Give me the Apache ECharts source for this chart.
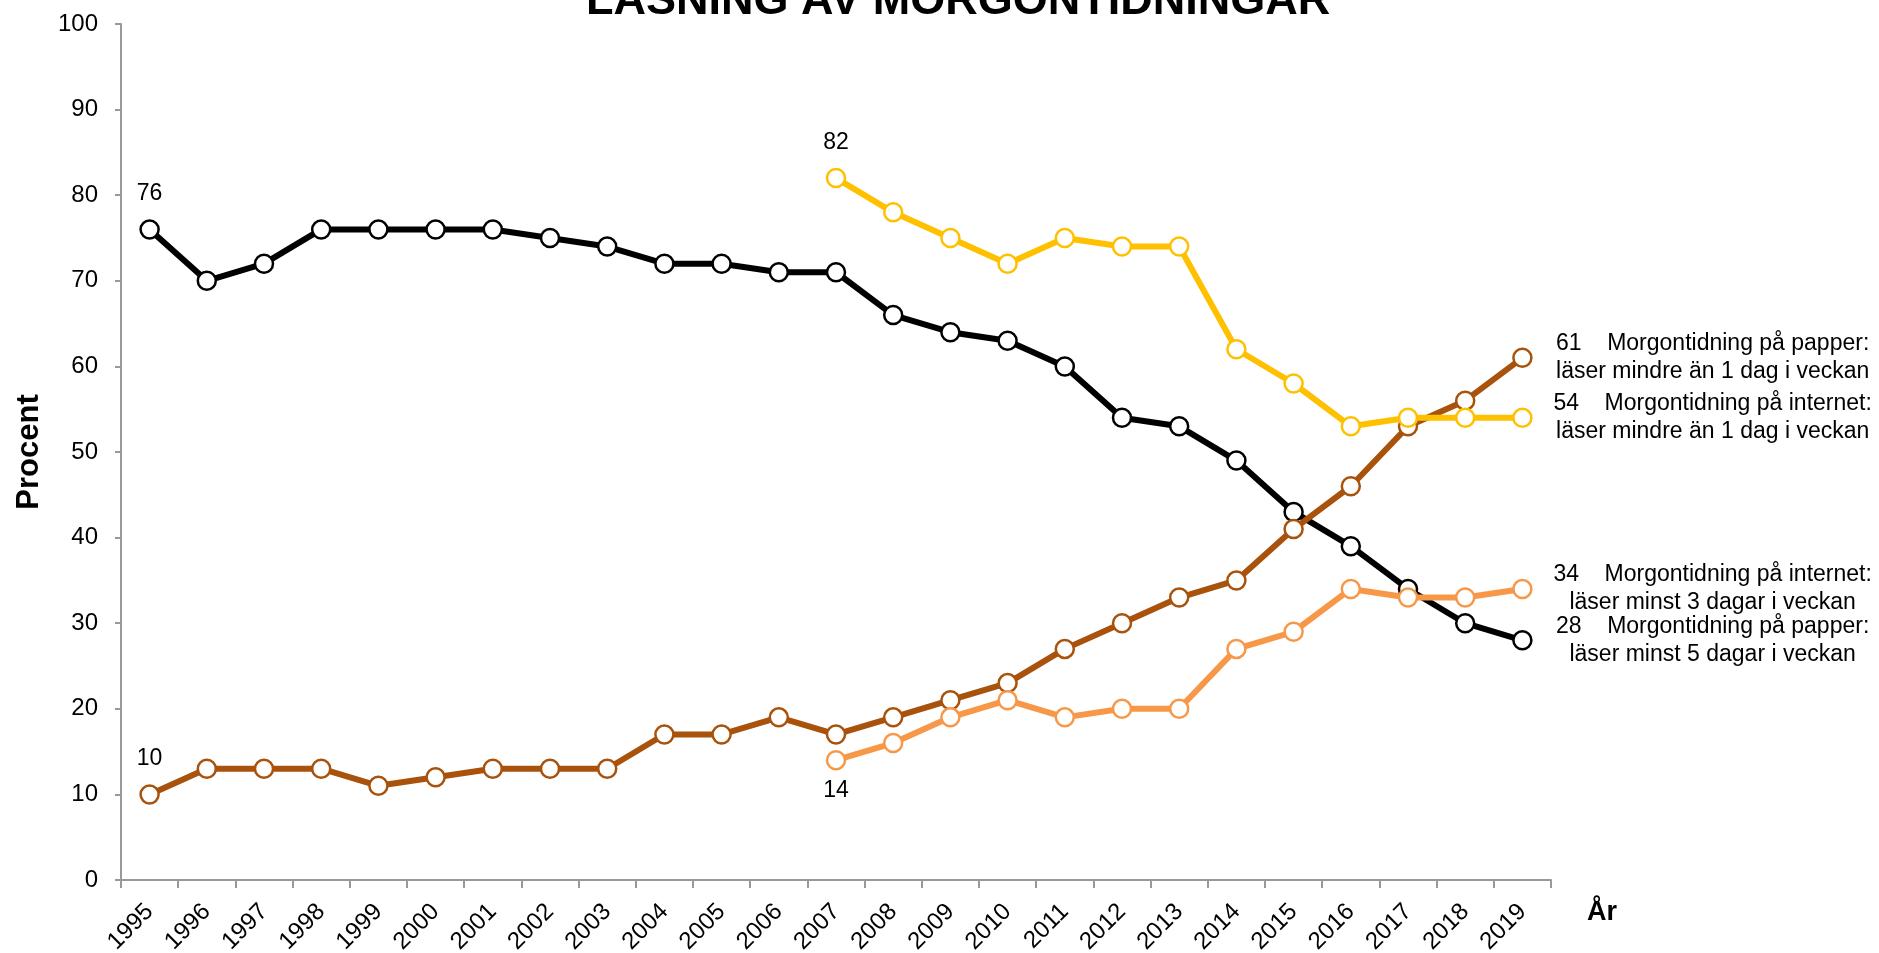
<!DOCTYPE html>
<html>
<head>
<meta charset="utf-8">
<title>Läsning av morgontidningar</title>
<script src="https://cdn.jsdelivr.net/npm/echarts@6/dist/echarts.min.js"></script>
<style>
  html, body { margin: 0; padding: 0; background: #fff; }
  #chart { width: 1879px; height: 953px; }
</style>
</head>
<body>
<div id="chart"></div>
<script>
// år på x-axeln
const years = ["1995", "1996", "1997", "1998", "1999", "2000", "2001", "2002", "2003", "2004", "2005", "2006", "2007",
  "2008", "2009", "2010", "2011", "2012", "2013", "2014", "2015", "2016", "2017", "2018", "2019"];

// morgontidning på papper: läser minst 5 dagar i veckan
const paperWeekly = [76, 70, 72, 76, 76, 76, 76, 75, 74, 72, 72, 71, 71, 66, 64, 63, 60, 54, 53, 49, 43, 39, 34, 30, 28];
// morgontidning på papper: läser mindre än 1 dag i veckan
const paperRarely = [10, 13, 13, 13, 11, 12, 13, 13, 13, 17, 17, 19, 17, 19, 21, 23, 27, 30, 33, 35, 41, 46, 53, 56, 61];
// morgontidning på internet: läser mindre än 1 dag i veckan (från 2007)
const webRarely = [null, null, null, null, null, null, null, null, null, null, null, null,
  82, 78, 75, 72, 75, 74, 74, 62, 58, 53, 54, 54, 54];
// morgontidning på internet: läser minst 3 dagar i veckan (från 2007)
const webWeekly = [null, null, null, null, null, null, null, null, null, null, null, null,
  14, 16, 19, 21, 19, 20, 20, 27, 29, 34, 33, 33, 34];

const yTicks = { min: 0, max: 100, interval: 10 };

const FONT = "'Liberation Sans', Arial, sans-serif";

const chart = echarts.init(document.getElementById("chart"));

// bygger datapunkter, med etikett på första och sista värdet
const buildData = (values, endText, firstPos) => {
  const first = values.findIndex((v) => v !== null);
  const last = values.length - 1;
  return values.map((v, i) => {
    if (i === first) {
      return {
        value: v,
        label: {
          show: true,
          position: firstPos,
          distance: firstPos === "top" ? 14 : 9,
          formatter: "{c}",
        },
      };
    }
    if (i === last) {
      return {
        value: v,
        label: {
          show: true,
          position: "right",
          distance: 180,
          align: "center",
          verticalAlign: "middle",
          lineHeight: 28,
          formatter: "{c}    " + endText,
        },
      };
    }
    return v;
  });
};

const makeSeries = (name, color, values, endText, firstPos) => ({
  name: name,
  type: "line",
  data: buildData(values, endText, firstPos),
  symbol: "circle",
  symbolSize: 18,
  connectNulls: false,
  lineStyle: { color: color, width: 6 },
  itemStyle: { color: "#fff", borderColor: color, borderWidth: 2.5 },
  label: { color: "#000", fontSize: 23, fontFamily: FONT },
  emphasis: { disabled: true },
  animation: false,
});

const option = {
  backgroundColor: "#fff",
  title: {
    text: "LÄSNING AV MORGONTIDNINGAR",
    left: 581,
    top: -26,
    textStyle: { fontSize: 45, fontWeight: "bold", color: "#000", fontFamily: FONT },
  },
  grid: { left: 121, right: 328, top: 24, bottom: 73, containLabel: false, outerBoundsMode: "none" },
  xAxis: {
    type: "category",
    data: years,
    boundaryGap: true,
    name: "År",
    nameLocation: "end",
    nameGap: 36,
    nameTextStyle: {
      fontSize: 27,
      fontWeight: "bold",
      color: "#000",
      fontFamily: FONT,
      verticalAlign: "top",
      lineHeight: 66,
    },
    axisLine: { lineStyle: { color: "#999", width: 2 } },
    axisTick: { show: true, length: 8, lineStyle: { color: "#999", width: 2 } },
    axisLabel: { rotate: 45, margin: 28, fontSize: 24, color: "#000", fontFamily: FONT, interval: 0 },
    splitLine: { show: false },
  },
  yAxis: {
    type: "value",
    min: yTicks.min,
    max: yTicks.max,
    interval: yTicks.interval,
    name: "Procent",
    nameLocation: "middle",
    nameGap: 76,
    nameTextStyle: { fontSize: 31, fontWeight: "bold", color: "#000", fontFamily: FONT },
    axisLine: { show: true, lineStyle: { color: "#999", width: 2 } },
    axisTick: { show: true, length: 6, lineStyle: { color: "#999", width: 2 } },
    axisLabel: { margin: 23, fontSize: 24, color: "#000", fontFamily: FONT },
    splitLine: { show: false },
  },
  series: [
    makeSeries("Morgontidning på papper: läser minst 5 dagar i veckan", "#000000", paperWeekly,
      "Morgontidning på papper:\nläser minst 5 dagar i veckan", "top"),
    makeSeries("Morgontidning på papper: läser mindre än 1 dag i veckan", "#A8520C", paperRarely,
      "Morgontidning på papper:\nläser mindre än 1 dag i veckan", "top"),
    makeSeries("Morgontidning på internet: läser mindre än 1 dag i veckan", "#FFC000", webRarely,
      "Morgontidning på internet:\nläser mindre än 1 dag i veckan", "top"),
    makeSeries("Morgontidning på internet: läser minst 3 dagar i veckan", "#F79848", webWeekly,
      "Morgontidning på internet:\nläser minst 3 dagar i veckan", "bottom"),
  ],
};

chart.setOption(option);
</script>
</body>
</html>
